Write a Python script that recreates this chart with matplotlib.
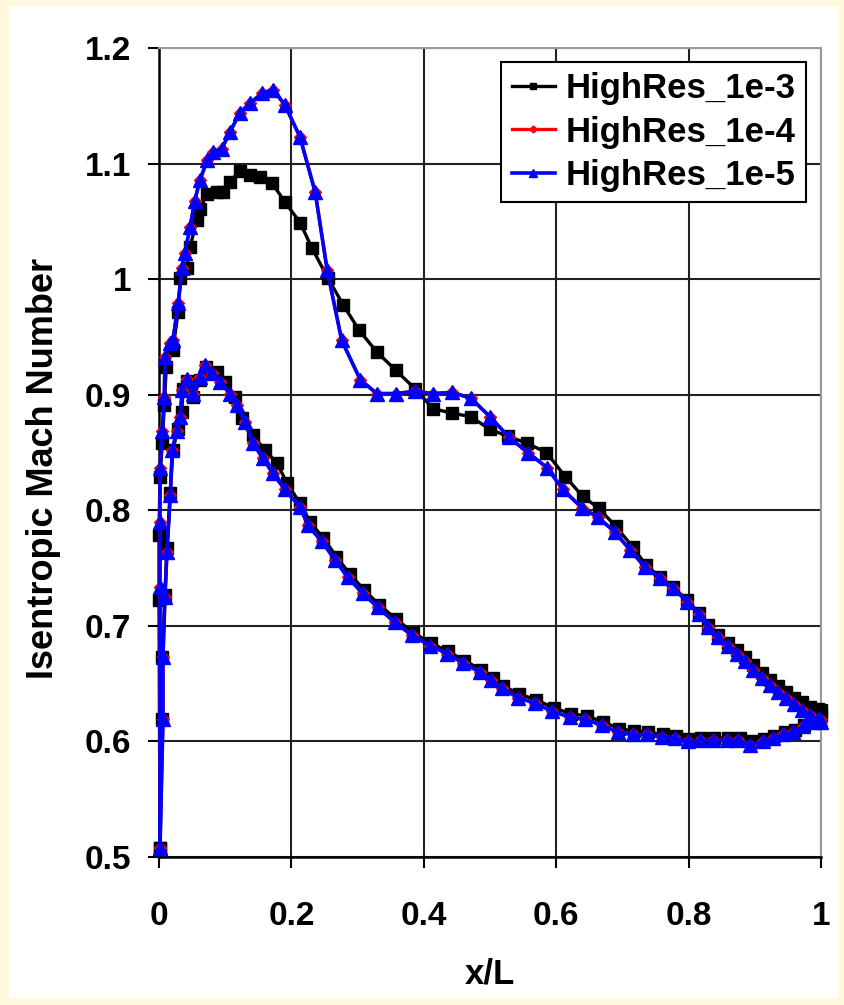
import matplotlib
matplotlib.use("Agg")
import matplotlib.pyplot as plt
from matplotlib.patches import Rectangle

plt.rcParams["font.family"] = ["Liberation Sans", "DejaVu Sans"]
plt.rcParams["font.weight"] = "bold"

# --- data (x/L, isentropic Mach) ---
# 1e-5 lower surface (LE -> TE)
lo5_x = [0.0015, 0.006, 0.006, 0.009, 0.012, 0.017, 0.020, 0.027, 0.032, 0.035,
         0.042, 0.051, 0.062, 0.069, 0.080, 0.092, 0.107, 0.118, 0.130, 0.142,
         0.157, 0.172, 0.190, 0.213, 0.225, 0.246, 0.266, 0.285, 0.308, 0.331,
         0.356, 0.382, 0.409, 0.435, 0.459, 0.485, 0.502, 0.518, 0.542, 0.568,
         0.594, 0.621, 0.644, 0.669, 0.693, 0.716, 0.737, 0.760, 0.779, 0.799,
         0.817, 0.837, 0.858, 0.875, 0.893, 0.912, 0.927, 0.943, 0.958, 0.973,
         0.988, 0.998]
lo5_y = [0.508, 0.619, 0.673, 0.725, 0.764, 0.813, 0.852, 0.869, 0.881, 0.904,
         0.914, 0.901, 0.915, 0.926, 0.919, 0.911, 0.901, 0.891, 0.876, 0.858,
         0.845, 0.832, 0.818, 0.803, 0.787, 0.773, 0.757, 0.742, 0.728, 0.716,
         0.703, 0.692, 0.683, 0.676, 0.668, 0.660, 0.653, 0.646, 0.638, 0.633,
         0.626, 0.621, 0.619, 0.614, 0.608, 0.606, 0.606, 0.604, 0.603, 0.600,
         0.601, 0.601, 0.601, 0.601, 0.597, 0.600, 0.603, 0.606, 0.608, 0.613,
         0.617, 0.619]
# 1e-5 upper surface (LE -> TE)
up5_x = [0.0015, 0.0015, 0.0015, 0.0015, 0.005, 0.008, 0.009, 0.017, 0.021, 0.029,
         0.035, 0.039, 0.047, 0.054, 0.062, 0.073, 0.082, 0.095, 0.107, 0.122,
         0.137, 0.156, 0.172, 0.190, 0.213, 0.236, 0.254, 0.276, 0.304, 0.329,
         0.358, 0.387, 0.414, 0.443, 0.471, 0.500, 0.529, 0.557, 0.586, 0.610,
         0.639, 0.663, 0.689, 0.711, 0.734, 0.757, 0.776, 0.798, 0.816, 0.829,
         0.844, 0.860, 0.873, 0.885, 0.897, 0.911, 0.923, 0.935, 0.947, 0.959,
         0.971, 0.983, 0.995, 1.000]
up5_y = [0.508, 0.734, 0.790, 0.837, 0.869, 0.898, 0.933, 0.945, 0.947, 0.979,
         1.010, 1.023, 1.045, 1.068, 1.086, 1.103, 1.110, 1.113, 1.127, 1.144,
         1.152, 1.161, 1.164, 1.151, 1.123, 1.075, 1.008, 0.947, 0.913, 0.901,
         0.901, 0.903, 0.901, 0.902, 0.897, 0.881, 0.863, 0.850, 0.837, 0.818,
         0.802, 0.794, 0.781, 0.766, 0.751, 0.741, 0.733, 0.721, 0.710, 0.699,
         0.690, 0.683, 0.676, 0.670, 0.662, 0.655, 0.649, 0.643, 0.638, 0.632,
         0.627, 0.623, 0.619, 0.617]

# 1e-4 sits on top of 1e-5 everywhere in the picture
lo4_x, lo4_y = lo5_x, lo5_y
up4_x, up4_y = up5_x, up5_y

# 1e-3 lower surface (LE -> TE)
lo3_x = [0.0015, 0.005, 0.005, 0.009, 0.012, 0.017, 0.021, 0.028, 0.034, 0.037,
         0.043, 0.052, 0.062, 0.071, 0.088, 0.100, 0.115, 0.126, 0.142, 0.160,
         0.178, 0.193, 0.213, 0.228, 0.248, 0.268, 0.288, 0.310, 0.333, 0.358,
         0.384, 0.411, 0.437, 0.461, 0.487, 0.504, 0.520, 0.544, 0.570, 0.596,
         0.623, 0.646, 0.671, 0.695, 0.718, 0.739, 0.762, 0.781, 0.801, 0.819,
         0.839, 0.860, 0.877, 0.895, 0.914, 0.929, 0.945, 0.960, 0.975, 0.990,
         1.000]
lo3_y = [0.508, 0.619, 0.673, 0.727, 0.767, 0.815, 0.852, 0.870, 0.885, 0.905,
         0.912, 0.898, 0.913, 0.924, 0.920, 0.911, 0.898, 0.880, 0.865, 0.852,
         0.841, 0.824, 0.806, 0.790, 0.776, 0.760, 0.745, 0.731, 0.718, 0.706,
         0.694, 0.685, 0.678, 0.670, 0.662, 0.655, 0.648, 0.641, 0.636, 0.629,
         0.624, 0.622, 0.617, 0.611, 0.609, 0.608, 0.606, 0.605, 0.602, 0.603,
         0.603, 0.603, 0.603, 0.600, 0.602, 0.605, 0.608, 0.610, 0.614, 0.618,
         0.622]
# 1e-3 upper surface (LE -> TE)
up3_x = [0.0015, 0.0, 0.0, 0.0015, 0.005, 0.008, 0.011, 0.021, 0.029, 0.032,
         0.042, 0.047, 0.057, 0.062, 0.073, 0.088, 0.097, 0.107, 0.122, 0.137,
         0.152, 0.171, 0.190, 0.213, 0.231, 0.255, 0.278, 0.302, 0.329, 0.358,
         0.387, 0.414, 0.443, 0.471, 0.500, 0.527, 0.556, 0.585, 0.614, 0.640,
         0.664, 0.690, 0.716, 0.735, 0.757, 0.776, 0.798, 0.816, 0.829, 0.844,
         0.860, 0.873, 0.885, 0.897, 0.911, 0.923, 0.935, 0.947, 0.959, 0.971,
         0.983, 0.995, 1.000]
up3_y = [0.508, 0.722, 0.779, 0.829, 0.858, 0.891, 0.924, 0.939, 0.972, 1.001,
         1.010, 1.028, 1.051, 1.061, 1.074, 1.075, 1.075, 1.084, 1.094, 1.090,
         1.088, 1.083, 1.067, 1.049, 1.027, 1.001, 0.978, 0.956, 0.937, 0.921,
         0.905, 0.888, 0.884, 0.881, 0.870, 0.864, 0.858, 0.850, 0.829, 0.812,
         0.802, 0.786, 0.768, 0.753, 0.742, 0.734, 0.722, 0.711, 0.701, 0.692,
         0.685, 0.679, 0.673, 0.666, 0.659, 0.653, 0.648, 0.643, 0.638, 0.634,
         0.630, 0.628, 0.627]

labels = ["HighRes_1e-3", "HighRes_1e-4", "HighRes_1e-5"]

fig = plt.figure(figsize=(8.45, 10.05), dpi=100, facecolor="#FFF8DC")
# white chart area on the cream slide background
fig.patches.append(Rectangle((9 / 845, 7 / 1005), 829 / 845, 992 / 1005,
                             transform=fig.transFigure, facecolor="white",
                             edgecolor="none", zorder=-10))
ax = fig.add_axes([159 / 845, (1005 - 857) / 1005, 662 / 845, 809 / 1005])
ax.set_facecolor("white")


# each case drawn as one path: TE -> lower -> LE -> upper -> TE
def path(lo_x, lo_y, up_x, up_y):
    return lo_x[::-1] + up_x, lo_y[::-1] + up_y


x3, y3 = path(lo3_x, lo3_y, up3_x, up3_y)
x4, y4 = path(lo4_x, lo4_y, up4_x, up4_y)
x5, y5 = path(lo5_x, lo5_y, up5_x, up5_y)

ax.plot(x3, y3, color="black", lw=2.4, marker="s", ms=8.5, mec="black",
        mfc="black", label=labels[0], zorder=3, clip_on=False)
ax.plot(x4, y4, color="red", lw=2.4, marker="D", ms=6.5, mec="red",
        mfc="red", label=labels[1], zorder=4, clip_on=False)
ax.plot(x5, y5, color="blue", lw=2.6, marker="^", ms=10, mec="blue",
        mfc="blue", label=labels[2], zorder=5, clip_on=False)

ax.set_xlim(0, 1)
ax.set_ylim(0.5, 1.2)
ax.set_xticks([0, 0.2, 0.4, 0.6, 0.8, 1.0])
ax.set_xticklabels(["0", "0.2", "0.4", "0.6", "0.8", "1"])
ax.set_yticks([0.5, 0.6, 0.7, 0.8, 0.9, 1.0, 1.1, 1.2])
ax.set_yticklabels(["0.5", "0.6", "0.7", "0.8", "0.9", "1", "1.1", "1.2"])
ax.grid(True, color="#222222", lw=1.5)
ax.set_axisbelow(True)

for side in ["top", "right"]:
    ax.spines[side].set_color("#999999")
    ax.spines[side].set_linewidth(1.5)
for side in ["left", "bottom"]:
    ax.spines[side].set_color("black")
    ax.spines[side].set_linewidth(1.8)

ax.tick_params(axis="both", direction="out", length=8, width=1.5,
               labelsize=24, colors="black")
ax.tick_params(axis="y", pad=12)
ax.tick_params(axis="x", pad=24)

ax.set_xlabel("x/L", fontsize=25, fontweight="bold")
ax.set_ylabel("Isentropic Mach Number", fontsize=26, fontweight="bold")
ax.xaxis.set_label_coords(0.5, -0.124)
ax.yaxis.set_label_coords(-0.148, 0.48)

leg = ax.legend(loc="upper right", bbox_to_anchor=(0.977, 0.983),
                fontsize=25, frameon=True, fancybox=False, edgecolor="black",
                borderpad=0.3, labelspacing=0.3, handlelength=1.25,
                handletextpad=0.3, borderaxespad=0, markerscale=0.55)
leg.get_frame().set_linewidth(1.5)
leg.get_frame().set_alpha(1)

fig.savefig("out.png", dpi=100, facecolor=fig.get_facecolor())
